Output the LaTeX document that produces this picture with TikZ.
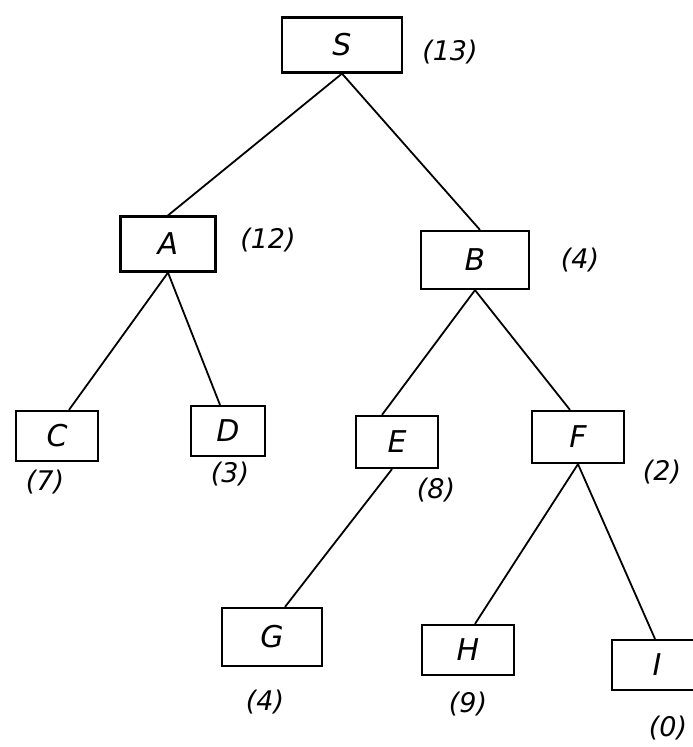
\documentclass[tikz,border=0pt]{standalone}
\usepackage{fontspec}
\setmainfont{DejaVu Sans}
\begin{document}
\begin{tikzpicture}[x=1pt,y=-1pt,
  tnode/.style={draw, line width=2.2pt, inner sep=0pt, font=\fontsize{30}{34}\selectfont\itshape},
  cost/.style={font=\fontsize{27}{30}\selectfont\itshape, inner sep=0pt},
  edge/.style={line width=1.8pt}]
\clip (0,0) rectangle (693,747);
\fill[white] (0,0) rectangle (693,747);
\node[tnode, minimum width=120pt, minimum height=55pt] (S) at (342,45) {S};
\node[cost] (cS) at (450,52) {(13)};
\node[tnode, minimum width=95pt, minimum height=55pt] (A) at (168,244) {A};
\node[cost] (cA) at (268,240) {(12)};
\node[tnode, minimum width=108pt, minimum height=58pt] (B) at (475,260) {B};
\node[cost] (cB) at (580,260) {(4)};
\node[tnode, minimum width=82pt, minimum height=50pt] (C) at (57,436) {C};
\node[cost] (cC) at (45,482) {(7)};
\node[tnode, minimum width=74pt, minimum height=50pt] (D) at (228,431) {D};
\node[cost] (cD) at (230,474) {(3)};
\node[tnode, minimum width=82pt, minimum height=52pt] (E) at (397,442) {E};
\node[cost] (cE) at (436,490) {(8)};
\node[tnode, minimum width=92pt, minimum height=52pt] (F) at (578,437) {F};
\node[cost] (cF) at (662,472) {(2)};
\node[tnode, minimum width=100pt, minimum height=58pt] (G) at (272,637) {G};
\node[cost] (cG) at (265,702) {(4)};
\node[tnode, minimum width=92pt, minimum height=50pt] (H) at (468,650) {H};
\node[cost] (cH) at (468,704) {(9)};
\node[tnode, minimum width=90pt, minimum height=50pt] (I) at (657,665) {I};
\node[cost] (cI) at (668,728) {(0)};
\draw[edge] (S.south) -- (A.north);
\draw[edge] (S.south) -- ([xshift=5pt]B.north);
\draw[edge] (A.south) -- ([xshift=12pt]C.north);
\draw[edge] (A.south) -- ([xshift=-8pt]D.north);
\draw[edge] (B.south) -- ([xshift=-15pt]E.north);
\draw[edge] (B.south) -- ([xshift=-8pt]F.north);
\draw[edge] ([xshift=-5pt]E.south) -- ([xshift=13pt]G.north);
\draw[edge] (F.south) -- ([xshift=7pt]H.north);
\draw[edge] (F.south) -- ([xshift=-2pt]I.north);
\end{tikzpicture}
\end{document}
